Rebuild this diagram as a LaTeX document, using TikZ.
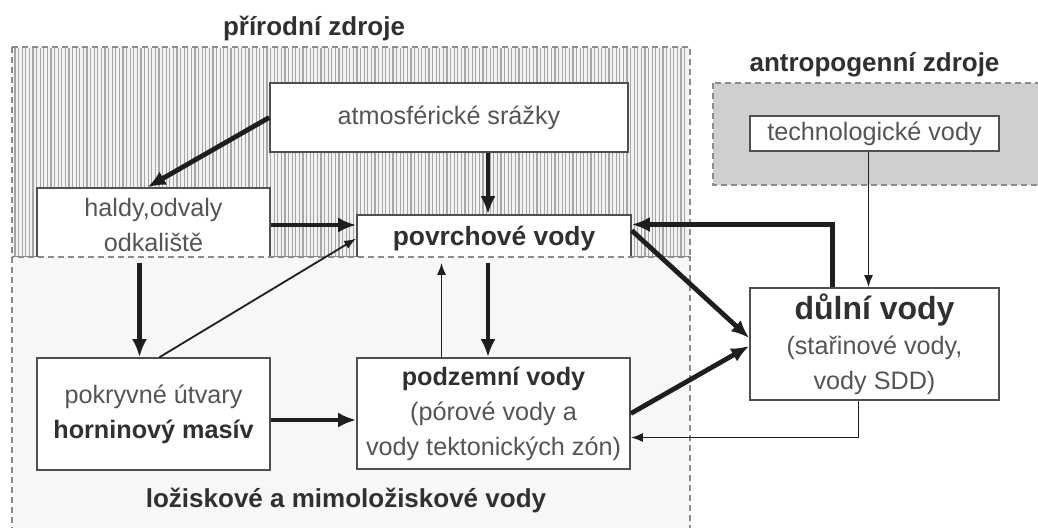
\documentclass[tikz,border=0pt]{standalone}
\usepackage{fontspec}
\setmainfont{Liberation Sans}
\usepackage{tikz}
\usetikzlibrary{arrows.meta}
\usepackage{xcolor}

\definecolor{txtgray}{HTML}{555555}
\definecolor{boldgray}{HTML}{303030}
\definecolor{arrowgray}{HTML}{1E1E1E}

\tikzset{
  box/.style={draw=boldgray!85,line width=0.8pt,fill=white,inner sep=0pt,align=center,
    text=txtgray,font=\fontsize{12.6}{17.5}\selectfont},
  region/.style={draw=gray!90,dashed,dash pattern=on 3pt off 2pt,line width=0.75pt},
  title/.style={text=boldgray,font=\fontsize{13}{15}\selectfont\bfseries},
  heavy/.style={-{Latex[length=9pt,width=7.5pt]},line width=2.4pt,draw=arrowgray},
  light/.style={-{Latex[length=6pt,width=4.5pt]},line width=0.9pt,draw=arrowgray},
}

\begin{document}
\begin{tikzpicture}[x=0.5pt,y=-0.5pt]
\useasboundingbox (0,0) rectangle (1038,527);
\clip (0,0) rectangle (1038,527);
\fill[white] (0,0) rectangle (1038,527);

% prirodni zdroje
\fill[gray!10] (12,47) rectangle (690,257);
\foreach \x in {15,18.6,...,688} \draw[gray!70,line width=0.6pt] (\x,48) -- (\x,256);
\draw[region] (12,47) rectangle (690,257);
\node[title] (tprir) at (314,28) {přírodní zdroje};

% antropogenni zdroje
\filldraw[region,fill=gray!38] (713,83) rectangle (1050,185);
\node[title] (tantr) at (874.5,65) {antropogenní zdroje};

\node[box,minimum width=179pt,minimum height=34.5pt] (atmos) at (449,117.5) {atmosférické srážky};
\node[box,minimum width=116.5pt,minimum height=37pt] (haldy) at (153.5,225) {haldy,odvaly\\odkaliště};
\node[box,minimum width=137pt,minimum height=23.5pt] (povrch) at (494,238.5) {\color{boldgray}\fontsize{13.2}{15}\selectfont\bfseries povrchové vody};

% lozisko
\filldraw[region,fill=gray!6] (12,257) rectangle (690,560);
\node[title] (tloz) at (346,500) {ložiskové a mimoložiskové vody};

\node[box,minimum width=124.5pt,minimum height=17.5pt] (techn) at (874.5,133.5) {technologické vody};
\node[box,minimum width=116.5pt,minimum height=56pt] (pokryv) at (153.5,414) {pokryvné útvary\\{\color{boldgray}\bfseries horninový masív}};
\node[box,minimum width=136.5pt,minimum height=55.5pt] (podzem) at (493.5,413.5) {{\color{boldgray}\bfseries podzemní vody}\\(pórové vody a\\vody tektonických zón)};
\node[box,minimum width=124.5pt,minimum height=56pt] (dulni) at (874.5,344) {{\color{boldgray}\fontsize{16}{19}\selectfont\bfseries důlní vody}\\(stařinové vody,\\vody SDD)};

% arrows
\draw[heavy] (atmos.west) -- ([xshift=-3pt]haldy.north);
\draw[heavy] ([xshift=-3pt]povrch.north |- atmos.south) -- ([xshift=-3pt]povrch.north);
\draw[heavy] (haldy.east) -- (haldy.east -| povrch.west);
\draw[light] ([xshift=3pt]pokryv.north) -- (povrch.west);
\draw[heavy] ([xshift=-7pt]haldy.south) -- ([xshift=-7pt]pokryv.north);
\draw[light] ([xshift=-26pt]podzem.north) -- ([xshift=-26pt]podzem.north |- povrch.south);
\draw[heavy] ([xshift=-3pt]povrch.south) -- ([xshift=-3pt]povrch.south |- podzem.north);
\draw[heavy] ([yshift=-3pt]pokryv.east) -- ([yshift=-3pt]pokryv.east -| podzem.west);
\draw[heavy] ([yshift=4pt]povrch.east) -- ([yshift=3pt]dulni.west);
\draw[heavy] (podzem.east) -- ([yshift=-1pt]dulni.west);
\draw[heavy] ([xshift=-21pt]dulni.north) |- ([yshift=7pt]povrch.east);
\draw[light] ([xshift=-3pt]techn.south) -- ([xshift=-3pt]dulni.north);
\draw[light] ([xshift=-8pt]dulni.south) |- ([yshift=-12pt]podzem.east);
\end{tikzpicture}
\end{document}
